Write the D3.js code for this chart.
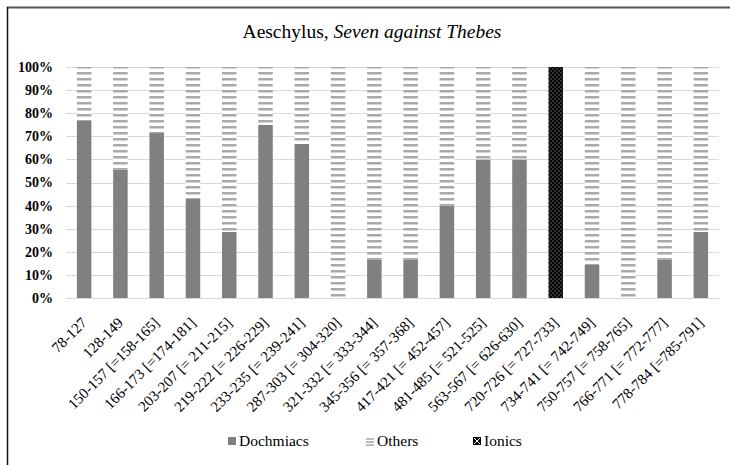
<!DOCTYPE html>
<html>
<head>
<meta charset="utf-8">
<script src="https://cdn.jsdelivr.net/npm/d3@7"></script>
<style>
body { margin: 0; background: #fff; }
</style>
</head>
<body>
<div id="canvas"></div>
<script>
// DATA -----------------------------------------------------
var categories = ["78-127", "128-149", "150-157 [=158-165]", "166-173 [=174-181]",
  "203-207 [= 211-215]", "219-222 [= 226-229]", "233-235 [= 239-241]", "287-303 [= 304-320]",
  "321-332 [= 333-344]", "345-356 [= 357-368]", "417-421 [= 452-457]", "481-485 [= 521-525]",
  "563-567 [= 626-630]", "720-726 [= 727-733]", "734-741 [= 742-749]", "750-757 [= 758-765]",
  "766-771 [= 772-777]", "778-784 [=785-791]"];
var dochmiacs = [76.9, 55.6, 71.4, 42.9, 28.6, 75, 66.7, 0, 16.7, 16.7, 40, 60, 60, 0, 14.3, 0, 16.7, 28.6];
var others    = [23.1, 44.4, 28.6, 57.1, 71.4, 25, 33.3, 100, 83.3, 83.3, 60, 40, 40, 0, 85.7, 100, 83.3, 71.4];
var ionics    = [0, 0, 0, 0, 0, 0, 0, 0, 0, 0, 0, 0, 0, 100, 0, 0, 0, 0];
var y_ticks = [0, 10, 20, 30, 40, 50, 60, 70, 80, 90, 100];
var series_names = ["Dochmiacs", "Others", "Ionics"];

// STRUCTURE ------------------------------------------------
var W = 730, H = 465;
var font = "Liberation Serif";
var svg = d3.select("#canvas").append("svg")
  .attr("width", W).attr("height", H)
  .attr("font-family", font);

var defs = svg.append("defs");
// horizontal dashes for "Others"
var p1 = defs.append("pattern").attr("id", "pat_others")
  .attr("patternUnits", "userSpaceOnUse").attr("width", 8).attr("height", 6);
p1.append("rect").attr("width", 8).attr("height", 6).attr("fill", "#fff");
p1.append("rect").attr("y", 0).attr("width", 8).attr("height", 2.5).attr("fill", "#a9a9a9");
// grey dots on black for "Ionics"
var p2 = defs.append("pattern").attr("id", "pat_ionics")
  .attr("patternUnits", "userSpaceOnUse").attr("width", 4).attr("height", 4);
p2.append("rect").attr("width", 4).attr("height", 4).attr("fill", "#000");
p2.append("circle").attr("cx", 1).attr("cy", 1).attr("r", 0.7).attr("fill", "#8a8a8a");
p2.append("circle").attr("cx", 3).attr("cy", 3).attr("r", 0.7).attr("fill", "#8a8a8a");

var fills = { Dochmiacs: "#808080", Others: "url(#pat_others)", Ionics: "url(#pat_ionics)" };

// frame (top and left only)
svg.append("line").attr("x1", 7).attr("x2", W).attr("y1", 7.5).attr("y2", 7.5)
  .attr("stroke", "#555").attr("stroke-width", 2);
svg.append("line").attr("x1", 7.5).attr("x2", 7.5).attr("y1", 7).attr("y2", H)
  .attr("stroke", "#111").attr("stroke-width", 1.5);

// scales
var x = d3.scaleBand().domain(categories).range([66, 719]).paddingInner(0.6).paddingOuter(0.3);
var y = d3.scaleLinear().domain([0, 100]).range([298, 67]);

// grid
svg.append("g").selectAll("line").data(y_ticks).enter().append("line")
  .attr("x1", 66).attr("x2", 719)
  .attr("y1", d => Math.round(y(d)) + 0.5).attr("y2", d => Math.round(y(d)) + 0.5)
  .attr("stroke", "#d9d9d9").attr("stroke-width", 1);

// y labels
svg.append("g").selectAll("text").data(y_ticks).enter().append("text")
  .attr("x", 53).attr("y", d => y(d)).attr("dy", "0.35em")
  .attr("text-anchor", "end").attr("font-size", 14).attr("font-weight", "bold")
  .text(d => d + "%");

// stacked bars
var table = categories.map((c, i) => ({ cat: c, Dochmiacs: dochmiacs[i], Others: others[i], Ionics: ionics[i] }));
var stack = d3.stack().keys(series_names)(table);
svg.append("g").selectAll("g").data(stack).enter().append("g")
  .attr("fill", d => fills[d.key])
  .selectAll("rect").data(d => d).enter().append("rect")
  .attr("x", d => x(d.data.cat))
  .attr("width", x.bandwidth())
  .attr("y", d => y(d[1]))
  .attr("height", d => y(d[0]) - y(d[1]));

// x labels
svg.append("g").selectAll("text").data(categories).enter().append("text")
  .attr("transform", d => `translate(${x(d) + x.bandwidth() / 2}, 320) rotate(-45)`)
  .attr("text-anchor", "end").attr("dy", "0.35em").attr("font-size", 15)
  .text(d => d);

// title
var title = svg.append("text").attr("x", 372).attr("y", 38)
  .attr("text-anchor", "middle").attr("font-size", 19.5);
title.append("tspan").text("Aeschylus, ");
title.append("tspan").attr("font-style", "italic").text("Seven against Thebes");

// legend
var legend_x = [228, 366, 473];
var lg = svg.append("g").selectAll("g").data(series_names).enter().append("g")
  .attr("transform", (d, i) => `translate(${legend_x[i]}, 441)`);
lg.append("rect").attr("x", 0).attr("y", -4).attr("width", 8).attr("height", 8)
  .attr("fill", d => d === "Others" ? "none" : (d === "Ionics" ? "#000" : fills[d]));
lg.filter(d => d === "Others").selectAll("line").data([-2, 1, 4]).enter().append("line")
  .attr("x1", 0).attr("x2", 8).attr("y1", d => d).attr("y2", d => d)
  .attr("stroke", "#a9a9a9").attr("stroke-width", 1.5);
lg.filter(d => d === "Ionics").append("path")
  .attr("d", "M1,-3L7,3M7,-3L1,3").attr("stroke", "#fff").attr("stroke-width", 1);
lg.append("text").attr("x", 11).attr("dy", "0.35em").attr("font-size", 15.5)
  .text(d => d);
</script>
</body>
</html>
